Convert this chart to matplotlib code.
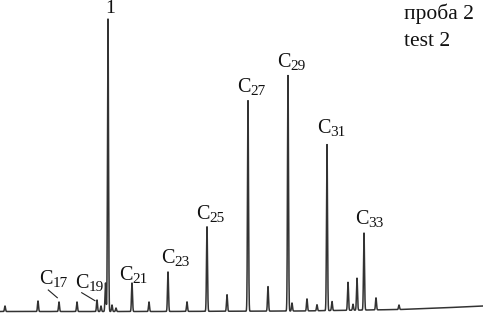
import numpy as np
import matplotlib
matplotlib.use("Agg")
import matplotlib.pyplot as plt

# Retention positions (arbitrary time units) and peak heights (signal units)
peak_rt = [5, 38, 59, 77, 97, 101, 105.5, 108, 112, 116, 132, 149, 168, 187,
           207, 227, 248, 268, 288, 292, 307, 317, 327, 332, 348, 353, 357,
           364, 376, 399]
peak_height = [5.5, 10.5, 9.5, 9.5, 11.5, 5.5, 28.5, 292.5, 6.5, 3.5, 28.5,
               9.5, 39.5, 9.5, 84.5, 16.5, 210.5, 24.5, 235.5, 8, 12, 6, 166,
               9, 28, 6, 32, 77, 12, 4.5]

# Baseline drift (time, level)
base_rt = [0, 150, 300, 400, 440, 483]
base_level = [0.5, 0.5, 1.0, 2.5, 4.0, 6.0]

# Labels for n-alkanes
alk_sub = ["17", "19", "21", "23", "25", "27", "29", "31", "33"]
alk_lbl_x = [39, 75, 119, 161, 196, 237, 277, 317, 355]
alk_lbl_y = [28, 24, 32, 49, 93, 220, 245, 179, 88]

H = 312.0
sigma = 0.5

t = np.arange(0, 483.01, 0.05)
signal = np.interp(t, base_rt, base_level)
for rt, h in zip(peak_rt, peak_height):
    signal = signal + h * np.exp(-0.5 * ((t - rt) / sigma) ** 2)

fig = plt.figure(figsize=(4.83, 3.14), dpi=100)
ax = fig.add_axes([0, 0, 1, 1])
ax.plot(t, signal, color="#333333", lw=1.1)
ax.set_xlim(0, 483)
ax.set_ylim(-2, H)
ax.axis("off")

serif = "Liberation Serif"
for sub, x, y in zip(alk_sub, alk_lbl_x, alk_lbl_y):
    ax.text(x, y, "C", fontsize=14.5, family=serif, ha="left", va="baseline",
            color="#111111")
    ax.annotate(sub, xy=(x, y), xytext=(9.8, -2.0), textcoords="offset points",
                fontsize=11, family=serif, ha="left", va="baseline",
                color="#111111")

# leader lines for C17 and C19
ax.plot([48.3, 57.3], [H - 290, H - 297.7], color="#222222", lw=0.8)
ax.plot([81.7, 95.0], [H - 292.7, H - 300.7], color="#222222", lw=0.8)

ax.text(110.5, H - 13, "1", fontsize=14, family=serif, ha="center",
        va="baseline", color="#111111")
ax.text(404, H - 19.3, "проба 2", fontsize=15.5, family=serif, ha="left",
        va="baseline", color="#111111")
ax.text(404, H - 45.7, "test 2", fontsize=15.5, family=serif, ha="left",
        va="baseline", color="#111111")

fig.savefig("out.png", dpi=100)
